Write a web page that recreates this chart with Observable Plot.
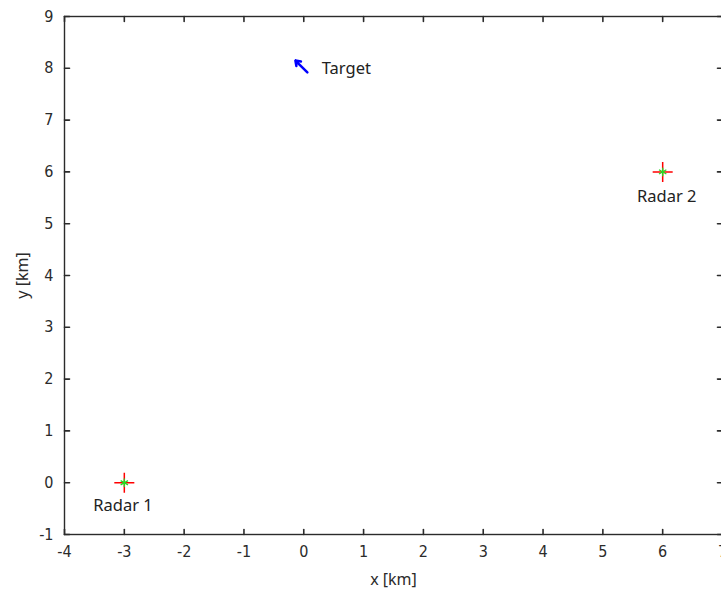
<!DOCTYPE html>
<html>
<head>
<meta charset="utf-8">
<script src="https://cdn.jsdelivr.net/npm/d3@7"></script>
<script src="https://cdn.jsdelivr.net/npm/@observablehq/plot@0.6"></script>
<style>
  html, body { margin: 0; padding: 0; background: #fff; }
</style>
</head>
<body>
<div id="chart"></div>
<script>
const xTicks = [-4, -3, -2, -1, 0, 1, 2, 3, 4, 5, 6, 7];
const yTicks = [-1, 0, 1, 2, 3, 4, 5, 6, 7, 8, 9];

const radarNames = ["Radar 1", "Radar 2"];
const radarX = [-3, 6];
const radarY = [0, 6];
const radarLabelX = [-3.52, 5.57];
const radarLabelY = [-0.45, 5.52];

const targetName = ["Target"];
const targetX1 = [0.06];
const targetY1 = [7.92];
const targetX2 = [-0.14];
const targetY2 = [8.15];
const targetLabelX = [0.3];
const targetLabelY = [8.0];

const radars = radarNames.map((name, i) => ({name, x: radarX[i], y: radarY[i], lx: radarLabelX[i], ly: radarLabelY[i]}));
const target = targetName.map((name, i) => ({name, x1: targetX1[i], y1: targetY1[i], x2: targetX2[i], y2: targetY2[i], lx: targetLabelX[i], ly: targetLabelY[i]}));

const tickFont = "'Liberation Sans Narrow', 'DejaVu Sans Condensed', 'Liberation Sans', sans-serif";
const textFont = "'Noto Sans', 'Open Sans', sans-serif";
const fmt = d => String(d);
const axisColor = "#2b2b2b";

// a plain line segment, used for inward tick marks
const tickShape = {draw(context, l) { context.moveTo(0, 0); context.lineTo(0, -l); }};
const tickOpts = {length: 5, anchor: "start", shape: tickShape, stroke: axisColor, strokeWidth: 1.6};

const chart = Plot.plot({
  width: 721,
  height: 590,
  marginTop: 16,
  marginBottom: 56,
  marginLeft: 64,
  marginRight: -1,
  style: {fontFamily: tickFont, fontSize: "16px", color: axisColor, background: "#fff"},
  x: {domain: [-4, 7]},
  y: {domain: [-1, 9]},
  marks: [
    Plot.frame({stroke: axisColor, strokeWidth: 1.4}),
    // inward tick marks on all four sides
    Plot.vector(xTicks, {x: d => d, frameAnchor: "bottom", rotate: 0, ...tickOpts}),
    Plot.vector(xTicks, {x: d => d, frameAnchor: "top", rotate: 180, ...tickOpts}),
    Plot.vector(yTicks, {y: d => d, frameAnchor: "left", rotate: 90, ...tickOpts}),
    Plot.vector(yTicks, {y: d => d, frameAnchor: "right", rotate: -90, ...tickOpts}),
    // tick labels
    Plot.axisX(xTicks, {anchor: "bottom", tickSize: 0, tickPadding: 11, tickFormat: fmt, label: null, fontSize: 16}),
    Plot.axisY(yTicks, {anchor: "left", tickSize: 0, tickPadding: 11, tickFormat: fmt, label: null, fontSize: 16}),
    // axis titles
    Plot.axisX(xTicks, {anchor: "bottom", tickSize: 0, tickFormat: () => "", label: "x [km]", labelAnchor: "center", labelArrow: "none", labelOffset: 50, fontSize: 16, fontFamily: textFont, dx: -4}),
    Plot.axisY(yTicks, {anchor: "left", tickSize: 0, tickFormat: () => "", label: "y [km]", labelAnchor: "center", labelArrow: "none", labelOffset: 48, fontSize: 16, fontFamily: textFont}),
    Plot.arrow(target, {x1: "x1", y1: "y1", x2: "x2", y2: "y2", stroke: "#0000ff", strokeWidth: 2.5, headLength: 7, headAngle: 70}),
    Plot.text(target, {x: "lx", y: "ly", text: "name", textAnchor: "start", fontFamily: textFont, fontSize: 16.5, fill: "#222"}),
    Plot.dot(radars, {x: "x", y: "y", symbol: "plus", r: 6.5, stroke: "#ff0000", strokeWidth: 1.5}),
    Plot.dot(radars, {x: "x", y: "y", symbol: "asterisk", r: 4, stroke: "#22dd22", strokeWidth: 1.3}),
    Plot.text(radars, {x: "lx", y: "ly", text: "name", textAnchor: "start", fontFamily: textFont, fontSize: 16.5, fill: "#222"})
  ]
});
document.getElementById("chart").appendChild(chart);
</script>
</body>
</html>
